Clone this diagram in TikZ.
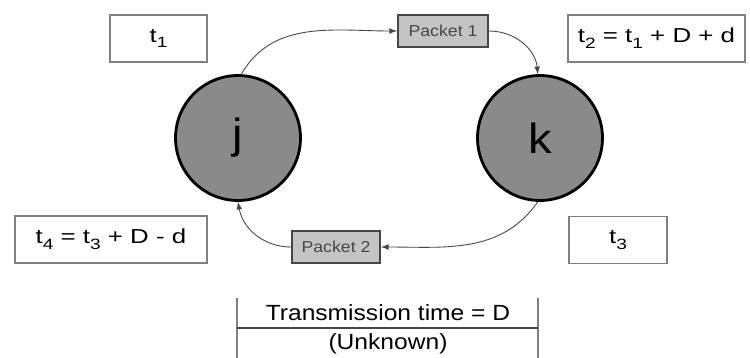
\documentclass[tikz,border=0pt]{standalone}
\usepackage{fontspec}
\setmainfont{Liberation Sans}[FakeStretch=1.12]
\newfontfamily\widefont{Liberation Sans}[FakeStretch=1.28]
\usepackage{tikz}
\usetikzlibrary{positioning}
\usetikzlibrary{calc}
\usetikzlibrary{arrows}

\definecolor{nodegray}{RGB}{138,138,138}
\definecolor{packetgray}{RGB}{196,196,196}
\definecolor{boxgray}{RGB}{128,128,128}
\definecolor{linegray}{RGB}{70,70,70}

\newcommand{\lowidx}[1]{\raisebox{-0.55ex}{\fontsize{8.5}{9}\selectfont #1}}

\tikzset{
  station/.style={circle,draw=black,line width=1.6pt,fill=nodegray,minimum size=2.5cm,font=\fontsize{24}{24}\selectfont},
  timebox/.style={rectangle,draw=boxgray,line width=1.1pt,minimum height=0.94cm,font=\widefont\fontsize{11.5}{13}\selectfont},
  packet/.style={rectangle,draw=linegray,line width=1.1pt,fill=packetgray,minimum height=0.65cm,font=\fontsize{9}{10}\selectfont,text=linegray},
  flow/.style={draw=linegray,line width=0.5pt,-latex}
}

\begin{document}
\begin{tikzpicture}[x=0.02cm,y=-0.02cm]
\useasboundingbox (0,0) rectangle (750,358);

\node [station] (j) at (238,138) {j};
\node [station] (k) at (540,138) {k};

\node [timebox,minimum width=1.94cm] (t1) at (158.5,38.5) {t\lowidx{1}};
\node [timebox,minimum width=3.54cm] (t2) at (656.5,38.5) {t\lowidx{2} = t\lowidx{1} + D + d};
\node [timebox,minimum width=1.96cm] (t3) at (618,240) {t\lowidx{3}};
\node [timebox,minimum width=3.84cm] (t4) at (111,239.5) {t\lowidx{4} = t\lowidx{3} + D - d};

\node [packet,minimum width=1.8cm] (p1) at (443,31) {Packet 1};
\node [packet,minimum width=1.76cm] (p2) at (336,247) {Packet 2};

\draw [flow] (j.87) to[out=60,in=180] (p1.west);
\draw [flow] (p1.east) to[out=0,in=95] (k.92);
\draw [flow] (k.268) to[out=235,in=0] (p2.east);
\draw [flow] (p2.west) to[out=180,in=280] (j.270);

% transmission time bracket
\coordinate (la) at (237,298);
\coordinate (lb) at (237,358);
\coordinate (ra) at (538,298);
\coordinate (rb) at (538,358);
\draw [boxgray,line width=0.9pt] (la) -- (lb);
\draw [boxgray,line width=0.9pt] (ra) -- (rb);
\draw [linegray,line width=0.9pt] ($(la)!0.5!(lb)$) -- ($(ra)!0.5!(rb)$);
\node [font=\fontsize{12.5}{14}\selectfont] (tt) at (388,313) {Transmission time = D};
\node [font=\fontsize{12.5}{14}\selectfont] (uk) at (388,344) {(Unknown)};
\end{tikzpicture}
\end{document}
